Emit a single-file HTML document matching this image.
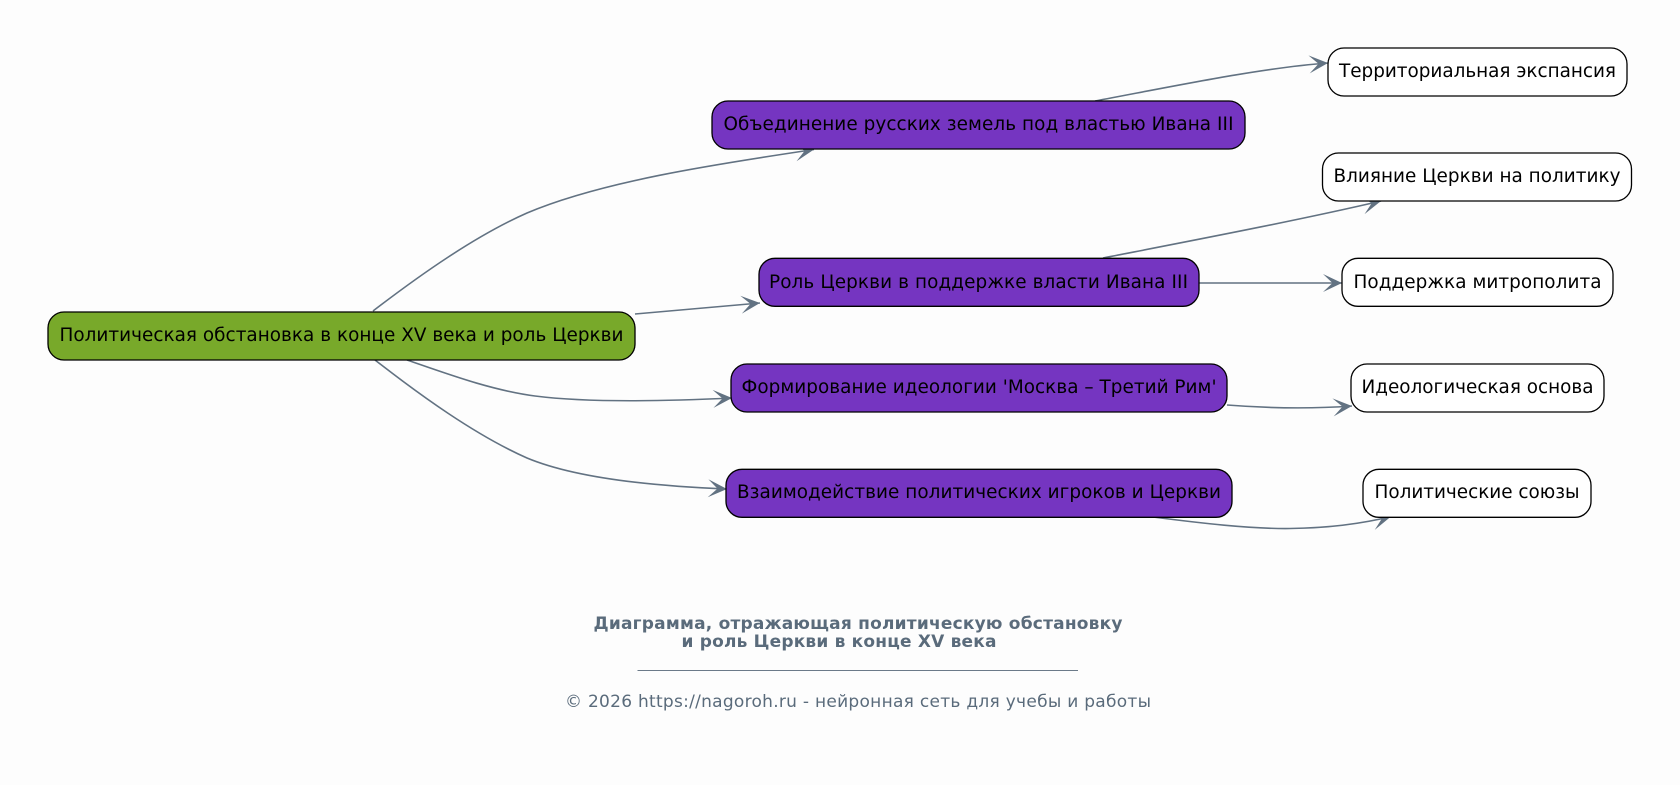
<!DOCTYPE html>
<html><head><meta charset="utf-8"><style>
html,body{margin:0;padding:0;background:#fdfdfd;width:1680px;height:785px;overflow:hidden}
svg{display:block}
text{font-family:"DejaVu Sans","Liberation Sans",sans-serif}
.n{font-size:18.4px;fill:#000;text-anchor:middle}
.e{fill:none;stroke:#627282;stroke-width:1.6;marker-end:url(#a)}
.b{stroke:#000;stroke-width:1.3}
</style></head><body>
<svg width="1680" height="785" viewBox="0 0 1680 785" xmlns="http://www.w3.org/2000/svg">
<defs><marker id="a" markerUnits="userSpaceOnUse" markerWidth="24" markerHeight="24" refX="20" refY="12" orient="auto">
<path d="M1 3 L20 12 L1 21 L10.5 12 Z" fill="#627282"/></marker></defs>
<rect width="1680" height="785" fill="#fdfdfd"/>
<path class="e" d="M373 311 C420 275,475 236,527 213 C600 182,710 165,814 149.5"/>
<path class="e" d="M635 314 L760 303"/>
<path class="e" d="M407 360 C445 373,490 390,535 396 C590 403,670 401,732 398"/>
<path class="e" d="M375 360 C420 395,475 435,527 458 C575 478,650 486,727 489"/>
<path class="e" d="M1095 101 C1170 87,1260 68,1328 63"/>
<path class="e" d="M1103 258 C1190 241,1300 220,1381 201"/>
<path class="e" d="M1199 283 L1342 283"/>
<path class="e" d="M1227 405 C1265 408,1310 409,1352 406"/>
<path class="e" d="M1153 517 C1200 523,1250 529,1290 528.5 C1330 528,1365 523,1391 516.5"/>
<rect class="b" x="48" y="312" width="587" height="48" rx="16" fill="#78a92a"/>
<rect class="b" x="712" y="101" width="533" height="48" rx="16" fill="#7535c1"/>
<rect class="b" x="759" y="258.3" width="440" height="48" rx="16" fill="#7535c1"/>
<rect class="b" x="731" y="364" width="496" height="48" rx="16" fill="#7535c1"/>
<rect class="b" x="726" y="469.3" width="506" height="48" rx="16" fill="#7535c1"/>
<rect class="b" x="1328" y="48" width="299" height="48" rx="16" fill="#fff"/>
<rect class="b" x="1322.5" y="153" width="309" height="48" rx="16" fill="#fff"/>
<rect class="b" x="1342" y="258.3" width="271" height="48" rx="16" fill="#fff"/>
<rect class="b" x="1351" y="364" width="253" height="48" rx="16" fill="#fff"/>
<rect class="b" x="1363" y="469.3" width="228" height="48" rx="16" fill="#fff"/>
<text class="n" x="341.5" y="341" textLength="564" lengthAdjust="spacing">Политическая обстановка в конце XV века и роль Церкви</text>
<text class="n" x="978.5" y="130" textLength="510" lengthAdjust="spacing">Объединение русских земель под властью Ивана III</text>
<text class="n" x="978.5" y="288" textLength="419" lengthAdjust="spacing">Роль Церкви в поддержке власти Ивана III</text>
<text class="n" x="979" y="393" textLength="475" lengthAdjust="spacing">Формирование идеологии 'Москва – Третий Рим'</text>
<text class="n" x="979" y="498" textLength="484" lengthAdjust="spacing">Взаимодействие политических игроков и Церкви</text>
<text class="n" x="1477.5" y="77" textLength="277" lengthAdjust="spacing">Территориальная экспансия</text>
<text class="n" x="1477" y="182" textLength="287" lengthAdjust="spacing">Влияние Церкви на политику</text>
<text class="n" x="1477.5" y="288" textLength="248" lengthAdjust="spacing">Поддержка митрополита</text>
<text class="n" x="1477.5" y="393" textLength="232" lengthAdjust="spacing">Идеологическая основа</text>
<text class="n" x="1477" y="498" textLength="205" lengthAdjust="spacing">Политические союзы</text>
<g fill="#5a6b7b" text-anchor="middle">
<text x="858" y="629" font-size="17" font-weight="bold" textLength="529" lengthAdjust="spacing">Диаграмма, отражающая политическую обстановку</text>
<text x="839" y="647" font-size="17" font-weight="bold" textLength="315" lengthAdjust="spacing">и роль Церкви в конце XV века</text>
<text x="858" y="707" font-size="17" textLength="586" lengthAdjust="spacing">© 2026 https://nagoroh.ru - нейронная сеть для учебы и работы</text>
</g>
<line x1="637.5" y1="670.5" x2="1078" y2="670.5" stroke="#6b7a89" stroke-width="1"/>
</svg>
</body></html>
